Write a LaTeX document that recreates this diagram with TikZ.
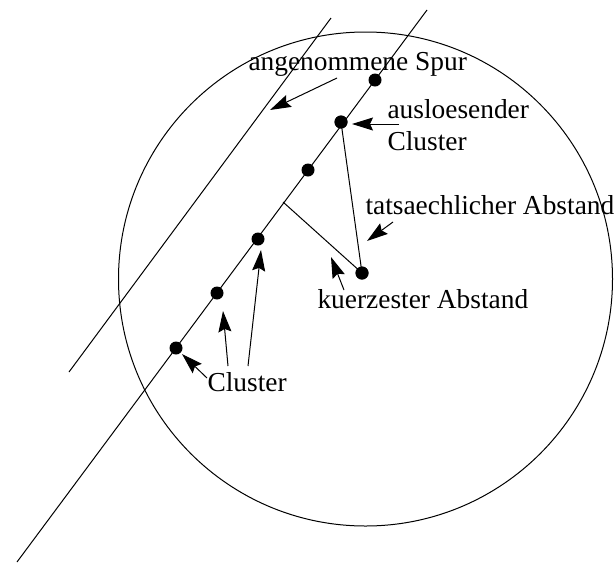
\documentclass[tikz,border=0pt]{standalone}
\usepackage{fontspec}
\setmainfont{Liberation Serif}
\usetikzlibrary{arrows.meta}
\begin{document}
\begin{tikzpicture}[x=1pt,y=-1pt,line width=1pt,
  dot/.style={circle,fill=black,inner sep=0pt,minimum size=13pt},
  lbl/.style={anchor=base west,inner sep=0pt,font=\fontsize{27.4}{33}\selectfont},
  arr/.style={-{Stealth[length=21pt,width=13pt,inset=3pt]}}]
\useasboundingbox (0,0) rectangle (616,563);
% circle
\node[draw,circle,inner sep=0pt,minimum size=494pt,line width=1pt] (circ) at (365.5,279) {};
% lines
\coordinate (trTop) at (427,10);
\coordinate (trBot) at (17,562);
\coordinate (asTop) at (331,18);
\coordinate (asBot) at (69,372);
\draw (trTop) -- (trBot);
\draw (asTop) -- (asBot);
% dots
\node[dot] (d1) at (375,80) {};
\node[dot] (d2) at (341,122) {};
\node[dot] (d3) at (308,170) {};
\node[dot] (d4) at (258,239) {};
\node[dot] (d5) at (217,293) {};
\node[dot] (d6) at (176,348) {};
\node[dot] (iso) at (362,273) {};
\coordinate (foot) at (283,202);
\draw (foot) -- (iso.center);
\draw (d2.center) -- (iso.center);
\node[dot] at (iso) {};
\node[dot] at (d2) {};
% labels
\node[lbl] (lSpur) at (248,70) {angenommene Spur};
\node[lbl] (lAus) at (387,118) {ausloesender};
\node[lbl] (lAusC) at (387,150) {Cluster};
\node[lbl] (lTat) at (365,214) {tatsaechlicher Abstand};
\node[lbl] (lKurz) at (317,308) {kuerzester Abstand};
\node[lbl] (lCl) at (207,391) {Cluster};
% arrows
\coordinate (a1s) at (337,78);  \coordinate (a1e) at (270,110);
\coordinate (a2s) at (399,124); \coordinate (a2e) at (352,124);
\coordinate (a3s) at (393,222); \coordinate (a3e) at (367,241);
\coordinate (a4s) at (344,290); \coordinate (a4e) at (331,257);
\coordinate (a5s) at (207,378); \coordinate (a5e) at (182,354);
\coordinate (a6s) at (228,366); \coordinate (a6e) at (223,311);
\coordinate (a7s) at (248,366); \coordinate (a7e) at (261,250);
\draw[arr] (a1s) -- (a1e);
\draw[arr] (a2s) -- (a2e);
\draw[arr] (a3s) -- (a3e);
\draw[arr] (a4s) -- (a4e);
\draw[arr] (a5s) -- (a5e);
\draw[arr] (a6s) -- (a6e);
\draw[arr] (a7s) -- (a7e);
\end{tikzpicture}
\end{document}
